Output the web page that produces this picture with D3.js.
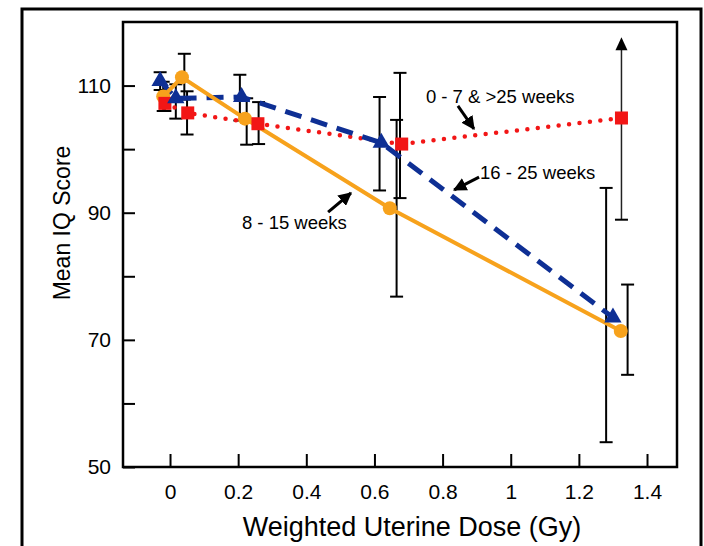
<!DOCTYPE html>
<html>
<head>
<meta charset="utf-8">
<script src="https://cdn.jsdelivr.net/npm/d3@7"></script>
<style>
  body { margin: 0; background: #fff; }
  svg { display: block; font-family: "Liberation Sans", Arial, sans-serif; }
</style>
</head>
<body>
<div id="chart"></div>
<script>
// Data
const xTicks = [0, 0.2, 0.4, 0.6, 0.8, 1, 1.2, 1.4];
const yTicks = [50, 60, 70, 80, 90, 100, 110];
const yLabels = [50, 70, 90, 110];

// 8 - 15 weeks
const orangeX = [-0.02, 0.035, 0.22, 0.645, 1.323];
const orangeY = [108.3, 111.3, 104.8, 90.7, 71.4];
const orangeLo = [106.0, 107.8, 100.7, 76.8, 64.5];
const orangeHi = [110.6, 115.0, 108.0, 104.6, 78.7];
const orangeErrX = [-0.02, 0.042, 0.225, 0.665, 1.343];

// 16 - 25 weeks
const blueX = [-0.029, 0.017, 0.21, 0.62, 1.30];
const blueY = [110.7, 108.0, 108.2, 101.0, 73.5];
const blueLo = [109.3, 104.8, 104.5, 93.5, 53.9];
const blueHi = [112.1, 110.2, 111.7, 108.2, 93.9];
const blueErrX = [-0.029, 0.017, 0.205, 0.615, 1.28];

// 0 - 7 & >25 weeks
const redX = [-0.015, 0.052, 0.258, 0.68, 1.325];
const redY = [107.2, 105.7, 104.0, 100.8, 104.9];
const redLo = [106.0, 102.3, 100.8, 92.3, 88.9];
const redHi = [108.9, 109.1, 107.4, 112.0, 117.6];
const redOpen = [false, false, false, false, true];
const redErrX = [-0.015, 0.05, 0.26, 0.675, 1.325];

// annotation labels and their arrows (data units)
const notes = [
  { text: '0 - 7 & >25 weeks', x: 0.751, y: 107.3, from: [0.845, 106.8], to: [0.892, 103.2] },
  { text: '16 - 25 weeks', x: 0.910, y: 95.3, from: [0.907, 95.6], to: [0.834, 93.6] },
  { text: '8 - 15 weeks', x: 0.211, y: 87.4, from: [0.464, 90.1], to: [0.531, 93.1] }
];

const width = 704, height = 546;
const margin = { top: 22, right: 27, bottom: 79, left: 123 };

const svg = d3.select('#chart')
  .append('svg')
  .attr('width', width)
  .attr('height', height);

// outer frame
svg.append('rect')
  .attr('x', 22).attr('y', 9)
  .attr('width', 679).attr('height', 560)
  .attr('fill', 'none')
  .attr('stroke', '#000')
  .attr('stroke-width', 3);

const x = d3.scaleLinear().domain([-0.138, 1.488]).range([margin.left, width - margin.right]);
const y = d3.scaleLinear().domain([50, 120]).range([height - margin.bottom, margin.top]);

const defs = svg.append('defs');
defs.append('marker')
  .attr('id', 'head')
  .attr('viewBox', '0 0 10 10')
  .attr('refX', 9).attr('refY', 5)
  .attr('markerWidth', 4.5).attr('markerHeight', 4.5)
  .attr('orient', 'auto')
  .append('path')
  .attr('d', 'M0,0L10,5L0,10z')
  .attr('fill', '#000');

// axes (ticks inward)
const xAxis = svg.append('g')
  .attr('transform', `translate(0,${y(50)})`)
  .call(d3.axisBottom(x).tickValues(xTicks).tickSizeInner(-13).tickSizeOuter(0)
    .tickPadding(17).tickFormat(d3.format('~g')));
xAxis.select('.domain').remove();
xAxis.selectAll('line').attr('stroke-width', 2);
xAxis.selectAll('text').attr('font-size', 21).attr('fill', '#000');

const yAxis = svg.append('g')
  .attr('transform', `translate(${x.range()[0]},0)`)
  .call(d3.axisLeft(y).tickValues(yTicks).tickSizeInner(-12).tickSizeOuter(0)
    .tickPadding(12).tickFormat(d => yLabels.includes(d) ? d : ''));
yAxis.select('.domain').remove();
yAxis.selectAll('line').attr('stroke-width', 2);
yAxis.selectAll('text').attr('font-size', 21).attr('fill', '#000');

// plot box
svg.append('rect')
  .attr('x', x.range()[0]).attr('y', y.range()[1])
  .attr('width', x.range()[1] - x.range()[0])
  .attr('height', y.range()[0] - y.range()[1])
  .attr('fill', 'none')
  .attr('stroke', '#000')
  .attr('stroke-width', 2.5);

// axis titles
svg.append('text')
  .attr('x', (x.range()[0] + x.range()[1]) / 2 + 12)
  .attr('y', 536)
  .attr('text-anchor', 'middle')
  .attr('font-size', 27)
  .text('Weighted Uterine Dose (Gy)');

svg.append('text')
  .attr('transform', 'translate(70,223) rotate(-90)')
  .attr('text-anchor', 'middle')
  .attr('font-size', 23)
  .text('Mean IQ Score');

// error bars
function errorBars(xs, lo, hi, open) {
  const g = svg.append('g').attr('stroke', '#000').attr('stroke-width', 2);
  xs.forEach((xv, i) => {
    const cx = x(xv);
    if (open && open[i]) {
      g.append('line')
        .attr('x1', cx).attr('x2', cx)
        .attr('y1', y(lo[i])).attr('y2', y(hi[i]) + 12)
        .attr('stroke-width', 1.5)
        .attr('stroke', '#222');
      g.append('path')
        .attr('d', `M${cx},${y(hi[i])}L${cx - 6},${y(hi[i]) + 13}L${cx + 6},${y(hi[i]) + 13}Z`)
        .attr('fill', '#000').attr('stroke', 'none');
      g.append('line')
        .attr('x1', cx - 6.5).attr('x2', cx + 6.5)
        .attr('y1', y(lo[i])).attr('y2', y(lo[i]));
      return;
    }
    g.append('line').attr('x1', cx).attr('x2', cx).attr('y1', y(lo[i])).attr('y2', y(hi[i]));
    [lo[i], hi[i]].forEach(v => {
      g.append('line')
        .attr('x1', cx - 6.5).attr('x2', cx + 6.5)
        .attr('y1', y(v)).attr('y2', y(v));
    });
  });
}
errorBars(blueErrX, blueLo, blueHi);
errorBars(redErrX, redLo, redHi, redOpen);
errorBars(orangeErrX, orangeLo, orangeHi);

const line = d3.line().x(d => x(d[0])).y(d => y(d[1]));

// red dotted
svg.append('path')
  .datum(d3.zip(redX, redY))
  .attr('d', line)
  .attr('fill', 'none')
  .attr('stroke', '#f21616')
  .attr('stroke-width', 4.5)
  .attr('stroke-linecap', 'round')
  .attr('stroke-dasharray', '0,10.5');

// blue dashed
svg.append('path')
  .datum(d3.zip(blueX, blueY))
  .attr('d', line)
  .attr('fill', 'none')
  .attr('stroke', '#0e2f94')
  .attr('stroke-width', 5)
  .attr('stroke-dasharray', '17,10');

// orange solid
svg.append('path')
  .datum(d3.zip(orangeX, orangeY))
  .attr('d', line)
  .attr('fill', 'none')
  .attr('stroke', '#f7a21c')
  .attr('stroke-width', 4);

// markers: circles below squares and triangles
svg.append('g')
  .selectAll('circle')
  .data(d3.zip(orangeX, orangeY))
  .enter()
  .append('circle')
  .attr('cx', d => x(d[0]))
  .attr('cy', d => y(d[1]))
  .attr('r', 7)
  .attr('fill', '#f7a21c');

svg.append('g')
  .selectAll('rect')
  .data(d3.zip(redX, redY))
  .enter()
  .append('rect')
  .attr('x', d => x(d[0]) - 6.5)
  .attr('y', d => y(d[1]) - 6.5)
  .attr('width', 13).attr('height', 13)
  .attr('fill', '#f21616');

svg.append('g')
  .selectAll('path')
  .data(d3.zip(blueX, blueY))
  .enter()
  .append('path')
  .attr('d', d3.symbol().type(d3.symbolTriangle).size(130))
  .attr('transform', d => `translate(${x(d[0])},${y(d[1])})`)
  .attr('fill', '#0e2f94');

// annotations
notes.forEach(n => {
  svg.append('text')
    .attr('x', x(n.x)).attr('y', y(n.y))
    .attr('font-size', 18.5)
    .text(n.text);
  svg.append('line')
    .attr('x1', x(n.from[0])).attr('y1', y(n.from[1]))
    .attr('x2', x(n.to[0])).attr('y2', y(n.to[1]))
    .attr('stroke', '#000')
    .attr('stroke-width', 3)
    .attr('marker-end', 'url(#head)');
});
</script>
</body>
</html>
